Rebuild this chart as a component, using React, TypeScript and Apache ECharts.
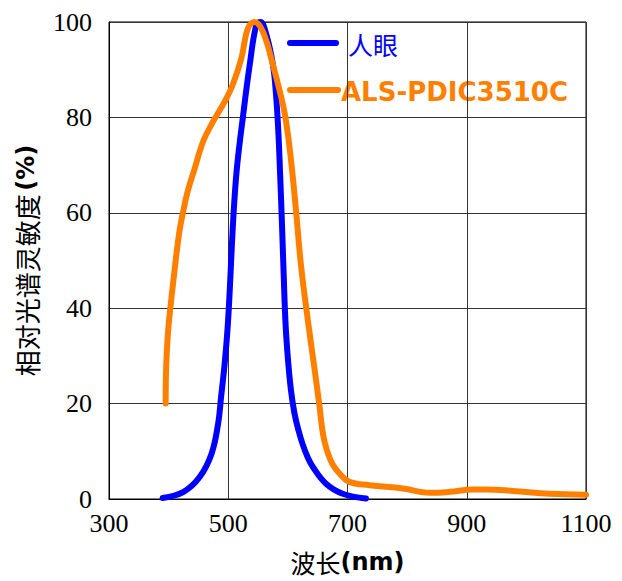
import React, { useEffect, useRef } from "react";
import * as echarts from "echarts";

const seriesNames = ["人眼", "ALS-PDIC3510C"];
const seriesColors = ["#0000ff", "#ff8000"];
const xTicks = [300, 500, 700, 900, 1100];

const eyeWavelength = [390, 425, 452, 472, 483, 488, 494, 499, 503, 506, 510, 515, 525, 536, 547, 554, 564, 575, 580, 584, 587, 590, 593, 596, 600, 605, 611, 618, 625, 633, 642, 664, 692, 731];
const eyeValue = [0.2, 1.5, 4.6, 9.5, 15.8, 21.4, 28.4, 36, 45, 53, 62, 70, 80.5, 91, 99.4, 100, 97.3, 91, 85, 77, 68, 58, 47, 37, 29.5, 23, 18, 14.3, 11.4, 8.8, 6.7, 3.2, 1.1, 0.1];

const alsWavelength = [395, 396, 399, 402, 410, 418, 424, 432, 443, 458, 474, 494, 508, 522, 533, 544, 558, 575, 592, 600, 607, 614, 622, 634, 645, 653, 659, 666, 675, 687, 703, 737, 793, 838, 871, 910, 933, 977, 1039, 1100];
const alsValue = [20, 28, 35, 39, 48, 56, 60, 64.5, 69, 75, 79, 83.3, 87, 92.4, 98.7, 100, 98, 91, 82.5, 76.5, 69, 60, 49, 37, 27, 19.5, 13.5, 10, 7.3, 5.3, 3.6, 2.9, 2.2, 1.3, 1.5, 2.0, 2.0, 1.7, 1.1, 0.9];

const pairs = (xs: number[], ys: number[]) => xs.map((x, i) => [x, ys[i]]);

export default function App() {
  const ref = useRef<HTMLDivElement>(null);
  useEffect(() => {
    const chart = echarts.init(ref.current!, null, { renderer: "svg" });
    chart.setOption({
      animation: false,
      backgroundColor: "#ffffff",
      grid: {
        left: 109,
        top: 22,
        width: 477,
        height: 477,
        show: true,
        borderColor: "#000",
        borderWidth: 1,
      },
      xAxis: {
        type: "value",
        min: 300,
        max: 1100,
        axisLine: { show: true, lineStyle: { color: "#000", width: 1 } },
        axisTick: { show: false, customValues: xTicks },
        splitLine: { show: true, lineStyle: { color: "#333", width: 1 } },
        axisLabel: {
          customValues: xTicks,
          formatter: (v: number) => String(v),
          color: "#000",
          fontFamily: "Liberation Serif",
          fontSize: 26,
          margin: 11,
        },
        name: "{cn|波长}{b|(nm)}",
        nameLocation: "middle",
        nameGap: 50,
        nameTextStyle: {
          rich: {
            cn: { fontFamily: "Noto Sans CJK SC", fontSize: 25, color: "#000" },
            b: { fontFamily: "DejaVu Sans", fontWeight: "bold", fontSize: 24, color: "#000" },
          },
        },
      },
      yAxis: {
        type: "value",
        min: 0,
        max: 100,
        interval: 20,
        axisLine: { show: true, lineStyle: { color: "#000", width: 1 } },
        axisTick: { show: false },
        splitLine: { show: true, lineStyle: { color: "#333", width: 1 } },
        axisLabel: {
          color: "#000",
          fontFamily: "Liberation Serif",
          fontSize: 26,
          margin: 17,
        },
        name: "{cn|相对光谱灵敏度} {b|(%)}",
        nameLocation: "middle",
        nameGap: 70,
        nameTextStyle: {
          rich: {
            cn: { fontFamily: "Noto Sans CJK SC", fontSize: 26, color: "#000" },
            b: { fontFamily: "DejaVu Sans", fontWeight: "bold", fontSize: 24, color: "#000" },
          },
        },
      },
      series: [
        {
          name: seriesNames[0],
          type: "line",
          data: pairs(eyeWavelength, eyeValue),
          smooth: 0.4,
          showSymbol: false,
          symbol: "none",
          lineStyle: { color: seriesColors[0], width: 6, cap: "round", join: "round" },
        },
        {
          name: seriesNames[1],
          type: "line",
          data: pairs(alsWavelength, alsValue),
          smooth: 0.4,
          showSymbol: false,
          symbol: "none",
          lineStyle: { color: seriesColors[1], width: 6, cap: "round", join: "round" },
        },
      ],
      graphic: [
        {
          type: "line",
          shape: { x1: 290, y1: 43, x2: 336, y2: 43 },
          style: { stroke: seriesColors[0], lineWidth: 6, lineCap: "round" },
        },
        {
          type: "text",
          x: 348,
          y: 44,
          style: {
            text: seriesNames[0],
            fill: seriesColors[0],
            fontFamily: "Noto Sans CJK SC",
            fontSize: 25,
            verticalAlign: "middle",
          },
        },
        {
          type: "line",
          shape: { x1: 290, y1: 90, x2: 338, y2: 90 },
          style: { stroke: seriesColors[1], lineWidth: 6, lineCap: "round" },
        },
        {
          type: "text",
          x: 341,
          y: 92,
          style: {
            text: seriesNames[1],
            fill: seriesColors[1],
            fontFamily: "DejaVu Sans",
            fontWeight: "bold",
            fontSize: 26,
            verticalAlign: "middle",
          },
        },
      ],
    });
    return () => chart.dispose();
  }, []);
  return (
    <div
      ref={ref}
      style={{ position: "fixed", left: 0, top: 0, width: 622, height: 581 }}
    />
  );
}
